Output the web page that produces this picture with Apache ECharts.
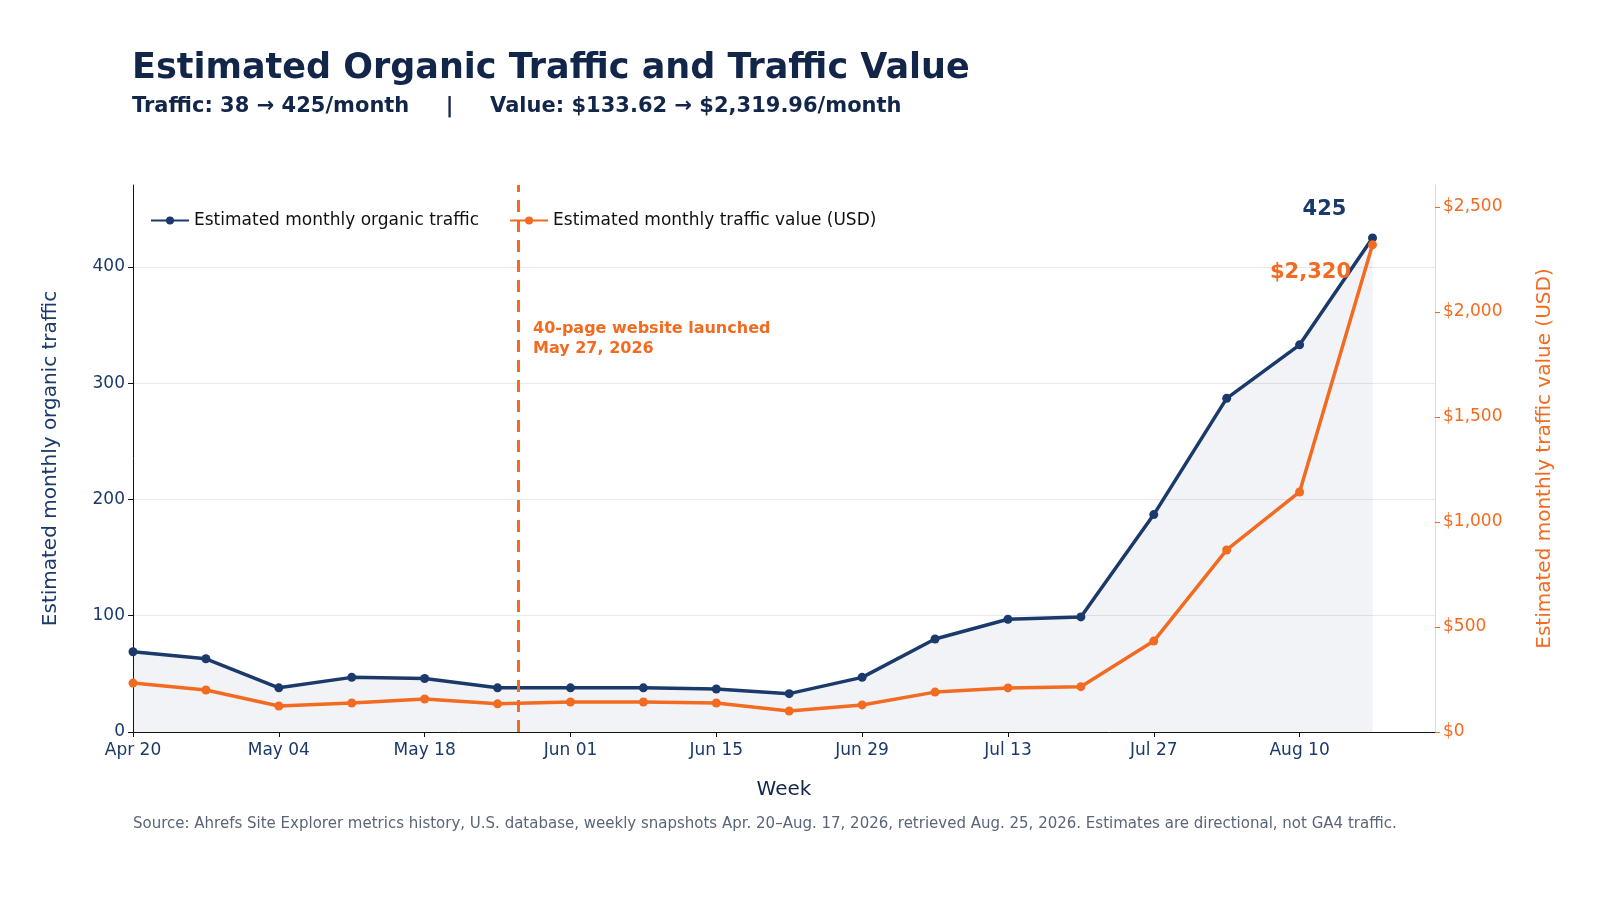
<!DOCTYPE html>
<html lang="en">
<head>
    <meta charset="UTF-8">
    <title>Estimated Organic Traffic and Traffic Value</title>
    <style>
        * { margin: 0; padding: 0; }
        #chart { width: 1600px; height: 900px; }
    </style>
</head>
<body>
    <div id="chart"></div>
</body>
</html>
<script src="https://cdn.jsdelivr.net/npm/echarts@6/dist/echarts.min.js"></script>
<script>
    const weeks = ['2026-04-20', '2026-04-27', '2026-05-04', '2026-05-11', '2026-05-18', '2026-05-25',
        '2026-06-01', '2026-06-08', '2026-06-15', '2026-06-22', '2026-06-29', '2026-07-06',
        '2026-07-13', '2026-07-20', '2026-07-27', '2026-08-03', '2026-08-10', '2026-08-17'];
    const traffic = [69, 63, 38, 47, 46, 38, 38, 38, 37, 33, 47, 80, 97, 99, 187, 287, 333, 425];
    const trafficValue = [233, 200, 124, 138, 157, 134, 143, 143, 138, 100, 129, 190, 210, 216, 433, 867, 1143, 2319.96];
    const launchDate = '2026-05-27';

    const navy = '#1b3a6b';
    const orange = '#f26b21';
    const months = ['Jan', 'Feb', 'Mar', 'Apr', 'May', 'Jun', 'Jul', 'Aug', 'Sep', 'Oct', 'Nov', 'Dec'];
    const DAY = 86400000;
    const toMs = s => +new Date(s + 'T00:00:00');
    const start = toMs(weeks[0]);

    function lastLabel(arr, label) {
        return arr.map((v, i) => {
            var item = { value: [toMs(weeks[i]), v] };
            if (i === arr.length - 1) item.label = label;
            return item;
        });
    }

    var myChart = echarts.init(document.getElementById('chart'));
    myChart.setOption({
        animation: false,
        textStyle: { fontFamily: 'DejaVu Sans' },
        title: {
            text: 'Estimated Organic Traffic and Traffic Value',
            subtext: 'Traffic: 38 \u2192 425/month     |     Value: $133.62 \u2192 $2,319.96/month',
            left: 127, top: 46,
            itemGap: 10,
            textStyle: { fontSize: 35, fontWeight: 'bold', color: '#12264a' },
            subtextStyle: { fontSize: 21, fontWeight: 'bold', color: '#12264a' }
        },
        legend: {
            left: 145, top: 207,
            itemWidth: 38, itemHeight: 10, itemGap: 30,
            textStyle: { fontSize: 17, color: '#111' },
            data: ['Estimated monthly organic traffic', 'Estimated monthly traffic value (USD)']
        },
        grid: { left: 133, right: 165, top: 185, bottom: 168 },
        xAxis: {
            type: 'value',
            min: start,
            max: start + 125 * DAY,
            interval: 14 * DAY,
            name: 'Week', nameLocation: 'middle', nameGap: 48,
            nameTextStyle: { fontSize: 20, color: '#12264a' },
            axisLine: { lineStyle: { color: '#111' } },
            axisTick: { show: true, lineStyle: { color: '#111' } },
            splitLine: { show: false },
            axisLabel: {
                fontSize: 17, color: '#1b3a6b', margin: 10, showMaxLabel: false,
                formatter: function (v) {
                    var d = new Date(v);
                    return months[d.getMonth()] + ' ' + String(d.getDate()).padStart(2, '0');
                }
            }
        },
        yAxis: [{
            type: 'value', min: 0, max: 470.5, interval: 100,
            name: 'Estimated monthly organic traffic', nameLocation: 'middle', nameGap: 72,
            nameTextStyle: { fontSize: 20, color: navy },
            axisLine: { show: true, lineStyle: { color: '#111' } },
            axisTick: { show: true },
            axisLabel: { fontSize: 17, color: navy, showMaxLabel: false },
            splitLine: { lineStyle: { color: '#e6e9ee' }, showMaxLine: false }
        }, {
            type: 'value', min: 0, max: 2605, interval: 500,
            name: 'Estimated monthly traffic value (USD)', nameLocation: 'middle', nameGap: 100,
            nameTextStyle: { fontSize: 20, color: orange },
            axisLine: { show: true, lineStyle: { color: '#dddddd' } },
            axisTick: { show: true, lineStyle: { color: orange } },
            axisLabel: {
                fontSize: 17, color: orange, showMaxLabel: false,
                formatter: v => '$' + v.toLocaleString('en-US')
            },
            splitLine: { show: false }
        }],
        series: [{
            name: 'Estimated monthly organic traffic',
            type: 'line', yAxisIndex: 0, z: 3,
            symbol: 'circle', symbolSize: 9,
            itemStyle: { color: navy },
            lineStyle: { width: 3.5, color: navy },
            areaStyle: { color: 'rgba(27,58,107,0.09)' },
            data: lastLabel(traffic, {
                show: true, position: 'top', offset: [-48, -8],
                fontSize: 21, fontWeight: 'bold', color: navy
            }),
            markLine: {
                silent: true, symbol: 'none',
                lineStyle: { type: [12, 8], width: 3, color: orange },
                label: { show: false },
                data: [{ xAxis: toMs(launchDate) }]
            }
        }, {
            name: 'Estimated monthly traffic value (USD)',
            type: 'line', yAxisIndex: 1, z: 4,
            symbol: 'circle', symbolSize: 9,
            itemStyle: { color: orange },
            lineStyle: { width: 3.5, color: orange },
            data: lastLabel(trafficValue, {
                show: true, position: 'left', offset: [-12, 28],
                fontSize: 21, fontWeight: 'bold', color: orange,
                formatter: p => '$' + Math.round(p.value[1]).toLocaleString('en-US')
            })
        }],
        graphic: [{
            type: 'text', left: 533, top: 319,
            style: {
                text: '40-page website launched\nMay 27, 2026',
                fill: orange, font: 'bold 16px "DejaVu Sans"', lineHeight: 20
            }
        }, {
            type: 'text', left: 133, top: 817,
            style: {
                text: 'Source: Ahrefs Site Explorer metrics history, U.S. database, weekly snapshots Apr. 20\u2013Aug. 17, 2026, retrieved Aug. 25, 2026. Estimates are directional, not GA4 traffic.',
                fill: '#5a6678', font: '15px "DejaVu Sans"'
            }
        }]
    });
</script>
